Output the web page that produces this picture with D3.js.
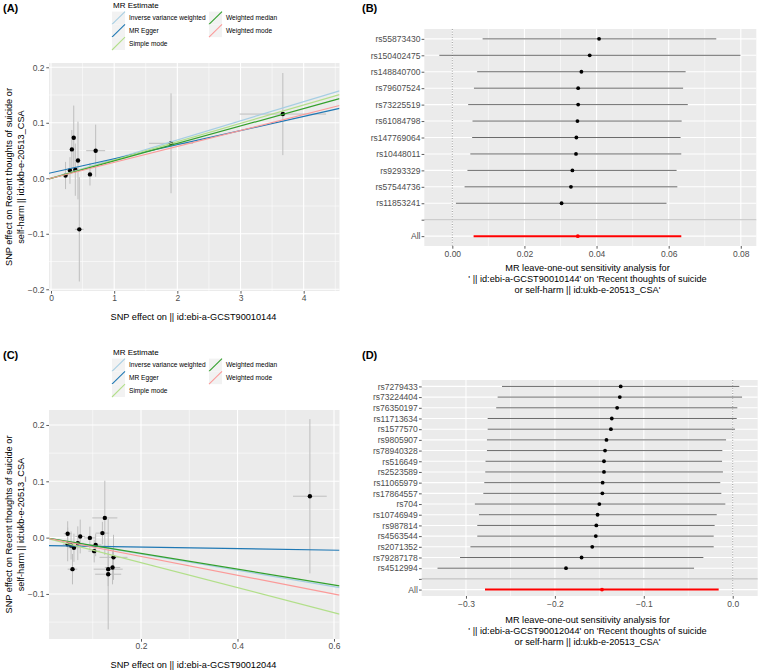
<!DOCTYPE html>
<html><head><meta charset="utf-8">
<script src="https://cdn.jsdelivr.net/npm/d3@7"></script>
<style>body{margin:0;background:#fff} text{font-family:"Liberation Sans",Arial,sans-serif}</style>
</head><body><svg id="c" width="759" height="671"></svg>
<script>
// ---------------- DATA ----------------
const methodNames = ["Inverse variance weighted","MR Egger","Simple mode","Weighted median","Weighted mode"];
const methodColors = ["#a6cee3","#1f78b4","#b2df8a","#33a02c","#fb9a99"];

// Panel A scatter
const bxA = [0.23, 0.30, 0.33, 0.36, 0.385, 0.427, 0.448, 0.617, 0.707, 1.90, 3.67];
const byA = [0.005, 0.014, 0.052, 0.073, 0.0155, 0.032, -0.092, 0.007, 0.0497, 0.063, 0.1157];
const sexA = [0.02, 0.02, 0.03, 0.03, 0.03, 0.04, 0.07, 0.03, 0.15, 0.35, 0.685];
const seyA = [0.0245, 0.024, 0.035, 0.058, 0.047, 0.07, 0.094, 0.02, 0.047, 0.09, 0.074];
const slopeA = [0.0345, 0.0254, 0.0330, 0.0314, 0.0287];
const interceptA = [0, 0.0098, 0, 0, 0];
const xTicksA = [0, 1, 2, 3, 4];
const xTickLabelsA = ["0", "1", "2", "3", "4"];
const yTicksA = [-0.2, -0.1, 0, 0.1, 0.2];
const yTickLabelsA = ["\u22120.2", "\u22120.1", "0.0", "0.1", "0.2"];

// Panel B leave-one-out
const snpsB = ["rs55873430","rs150402475","rs148840700","rs79607524","rs73225519","rs61084798","rs147769064","rs10448011","rs9293329","rs57544736","rs11853241"];
const bB  = [0.0407, 0.0381, 0.0358, 0.0349, 0.0349, 0.0347, 0.0344, 0.0343, 0.0333, 0.0329, 0.0303];
const loB = [0.0084, -0.0036, 0.0069, 0.0060, 0.0044, 0.0056, 0.0055, 0.0050, 0.0042, 0.0034, 0.0010];
const hiB = [0.0732, 0.0799, 0.0647, 0.0640, 0.0653, 0.0636, 0.0633, 0.0635, 0.0622, 0.0624, 0.0594];
const allB = [0.0348, 0.0059, 0.0635];
const xTicksB = [0, 0.02, 0.04, 0.06, 0.08];
const xTickLabelsB = ["0.00", "0.02", "0.04", "0.06", "0.08"];

// Panel C scatter
const bxC = [0.048, 0.048, 0.055, 0.058, 0.061, 0.069, 0.074, 0.094, 0.103, 0.106, 0.120, 0.125, 0.132, 0.132, 0.141, 0.143, 0.550];
const byC = [0.007, -0.012, -0.014, -0.056, -0.018, -0.010, 0.002, -0.0005, -0.024, -0.013, 0.008, 0.035, -0.056, -0.065, -0.053, -0.035, 0.0735];
const sexC = [0.008, 0.01, 0.01, 0.01, 0.012, 0.012, 0.01, 0.012, 0.012, 0.012, 0.014, 0.026, 0.03, 0.027, 0.016, 0.029, 0.035];
const seyC = [0.022, 0.03, 0.025, 0.027, 0.025, 0.03, 0.03, 0.02, 0.02, 0.02, 0.02, 0.066, 0.03, 0.098, 0.03, 0.04, 0.137];
const slopeC = [-0.145, -0.0136, -0.222, -0.140, -0.167];
const interceptC = [0, -0.0141, 0, 0, 0];
const xTicksC = [0.2, 0.4, 0.6];
const xTickLabelsC = ["0.2", "0.4", "0.6"];
const yTicksC = [-0.1, 0, 0.1, 0.2];
const yTickLabelsC = ["\u22120.1", "0.0", "0.1", "0.2"];

// Panel D leave-one-out
const snpsD = ["rs7279433","rs73224404","rs76350197","rs11713634","rs1577570","rs9805907","rs78940328","rs516649","rs2523589","rs11065979","rs17864557","rs704","rs10746949","rs987814","rs4563544","rs2071352","rs79287178","rs4512994"];
const bD  = [-0.126, -0.127, -0.130, -0.136, -0.137, -0.142, -0.1436, -0.1448, -0.1448, -0.1463, -0.1466, -0.150, -0.152, -0.1534, -0.154, -0.158, -0.170, -0.1875];
const loD = [-0.2595, -0.2644, -0.266, -0.2756, -0.2756, -0.2764, -0.2764, -0.278, -0.2783, -0.2794, -0.2805, -0.290, -0.2854, -0.2873, -0.2873, -0.295, -0.3067, -0.332];
const hiD = [0.0074, 0.0105, 0.0052, 0.0045, 0.0026, -0.0075, -0.0117, -0.012, -0.011, -0.014, -0.0128, -0.0083, -0.018, -0.0203, -0.0214, -0.0214, -0.033, -0.0435];
const allD = [-0.147, -0.2786, -0.0158];
const xTicksD = [-0.3, -0.2, -0.1, 0];
const xTickLabelsD = ["\u22120.3", "\u22120.2", "\u22120.1", "0.0"];

// ---------------- DRAWING ----------------
const svg = d3.select("#c");
svg.append("rect").attr("width", 759).attr("height", 671).attr("fill", "#fff");
const BG = "#EBEBEB", TICK = "#333333", TXT = "#4D4D4D";
let clipId = 0;

function minorsOf(major, lo, hi) {
  const step = major[1] - major[0];
  const out = [];
  for (let v = major[0] - step / 2; v <= hi + 1e-9; v += step) if (v >= lo - 1e-9) out.push(+v.toFixed(6));
  return out;
}

function panel(g, x, y, xMaj, yMaj, yIsBand) {
  const [x0, x1] = x.range(), [y1, y0] = yIsBand ? [y.range()[1], y.range()[0]] : y.range();
  g.append("rect").attr("x", x0).attr("y", y0).attr("width", x1 - x0).attr("height", y1 - y0).attr("fill", BG);
  const xd = x.domain();
  const xMin = minorsOf(xMaj, Math.min(...xd), Math.max(...xd));
  g.selectAll(null).data(xMin).join("line").attr("x1", d => x(d)).attr("x2", d => x(d)).attr("y1", y0).attr("y2", y1).attr("stroke", "#fff").attr("stroke-width", 0.55);
  if (!yIsBand) {
    const yd = y.domain();
    const yMin = minorsOf(yMaj, Math.min(...yd), Math.max(...yd));
    g.selectAll(null).data(yMin).join("line").attr("y1", d => y(d)).attr("y2", d => y(d)).attr("x1", x0).attr("x2", x1).attr("stroke", "#fff").attr("stroke-width", 0.55);
  }
  g.selectAll(null).data(xMaj).join("line").attr("x1", d => x(d)).attr("x2", d => x(d)).attr("y1", y0).attr("y2", y1).attr("stroke", "#fff").attr("stroke-width", 1.1);
  g.selectAll(null).data(yMaj).join("line").attr("y1", d => y(d)).attr("y2", d => y(d)).attr("x1", x0).attr("x2", x1).attr("stroke", "#fff").attr("stroke-width", 1.1);
  return [x0, x1, y0, y1];
}

function styleAxis(a, fs) {
  a.select(".domain").remove();
  a.attr("font-family", null).attr("font-size", null);
  a.selectAll(".tick line").attr("stroke", TICK).attr("stroke-width", 0.8);
  a.selectAll(".tick text").attr("fill", TXT).style("font-size", fs + "px");
}

function legend(g, top) {
  g.append("text").attr("x", 113).attr("y", top + 7.5).style("font-size", "8px").attr("fill", "#000").text("MR Estimate");
  const keyW = 13, keyH = 12.8;
  const pos = [[112, 0], [112, 1], [112, 2], [209, 0], [209, 1]];
  methodNames.forEach((m, i) => {
    const [kx, r] = pos[i];
    const ky = top + 11.6 + r * keyH;
    g.append("rect").attr("x", kx).attr("y", ky).attr("width", keyW).attr("height", keyH).attr("fill", "#F2F2F2");
    g.append("line").attr("x1", kx).attr("y1", ky + keyH).attr("x2", kx + keyW).attr("y2", ky).attr("stroke", methodColors[i]).attr("stroke-width", 1.1);
    g.append("text").attr("x", kx + 17).attr("y", ky + keyH / 2 + 2.4).style("font-size", "6.6px").attr("fill", "#000").text(m);
  });
}

function scatter(o) {
  const g = svg.append("g");
  const x = d3.scaleLinear().domain(o.xd).range([49, 339.5]);
  const y = d3.scaleLinear().domain(o.yd).range([o.bottom, o.top]);
  const [x0, x1, y0, y1] = panel(g, x, y, o.xt, o.yt, false);
  const id = "clip" + (clipId++);
  g.append("clipPath").attr("id", id).append("rect").attr("x", x0).attr("y", y0).attr("width", x1 - x0).attr("height", y1 - y0);
  const pg = g.append("g").attr("clip-path", `url(#${id})`);
  const idx = d3.range(o.bx.length);
  pg.selectAll(null).data(idx).join("line")
    .attr("x1", i => x(o.bx[i])).attr("x2", i => x(o.bx[i]))
    .attr("y1", i => y(o.by[i] - o.sey[i])).attr("y2", i => y(o.by[i] + o.sey[i]))
    .attr("stroke", "#BEBEBE").attr("stroke-width", 1);
  pg.selectAll(null).data(idx).join("line")
    .attr("y1", i => y(o.by[i])).attr("y2", i => y(o.by[i]))
    .attr("x1", i => x(o.bx[i] - o.sex[i])).attr("x2", i => x(o.bx[i] + o.sex[i]))
    .attr("stroke", "#BEBEBE").attr("stroke-width", 1);
  pg.selectAll(null).data(idx).join("circle")
    .attr("cx", i => x(o.bx[i])).attr("cy", i => y(o.by[i])).attr("r", 2.2).attr("fill", "#000");
  const xd = x.domain();
  pg.selectAll(null).data(d3.range(o.slopes.length)).join("line")
    .attr("x1", x(xd[0])).attr("x2", x(xd[1]))
    .attr("y1", i => y(o.intercepts[i] + o.slopes[i] * xd[0]))
    .attr("y2", i => y(o.intercepts[i] + o.slopes[i] * xd[1]))
    .attr("stroke", i => methodColors[i]).attr("stroke-width", 1.2);
  const ax = g.append("g").attr("transform", `translate(0,${y1})`)
    .call(d3.axisBottom(x).tickValues(o.xt).tickFormat((d, i) => o.xtl[i]).tickSize(2.7).tickPadding(1.5));
  styleAxis(ax, 8.5);
  const ay = g.append("g").attr("transform", `translate(${x0},0)`)
    .call(d3.axisLeft(y).tickValues(o.yt).tickFormat((d, i) => o.ytl[i]).tickSize(2.7).tickPadding(1.8));
  styleAxis(ay, 8.5);
  g.append("text").attr("x", 193.5).attr("y", y1 + 29).attr("text-anchor", "middle").style("font-size", "9.2px").text(o.xTitle);
  const cy = (y0 + y1) / 2;
  g.append("text").attr("transform", `translate(12,${cy}) rotate(-90)`).attr("text-anchor", "middle").style("font-size", "9.2px").text("SNP effect on Recent thoughts of suicide or");
  g.append("text").attr("transform", `translate(24.3,${cy}) rotate(-90)`).attr("text-anchor", "middle").style("font-size", "9.2px").text("self-harm || id:ukb-e-20513_CSA");
  legend(g, o.legTop);
  g.append("text").attr("x", 3).attr("y", o.legTop + 11.5).style("font-size", "11px").style("font-weight", "bold").text(o.label);
}

function loo(o) {
  const g = svg.append("g");
  const rows = o.snps.concat(["", "All"]);
  const x = d3.scaleLinear().domain(o.xd).range(o.xr);
  const y = d3.scalePoint().domain(rows).range([o.top, o.bottom]).padding(0.6);
  const [x0, x1, y0, y1] = panel(g, x, y, o.xt, rows, true);
  g.append("line").attr("x1", x(0)).attr("x2", x(0)).attr("y1", y0).attr("y2", y1)
    .attr("stroke", "#555").attr("stroke-width", 0.6).attr("stroke-dasharray", "1,1.6");
  g.append("line").attr("x1", x0).attr("x2", x1).attr("y1", y("")).attr("y2", y(""))
    .attr("stroke", "#BEBEBE").attr("stroke-width", 1.1);
  const idx = d3.range(o.snps.length);
  g.selectAll(null).data(idx).join("line")
    .attr("x1", i => x(o.lo[i])).attr("x2", i => x(o.hi[i]))
    .attr("y1", i => y(o.snps[i])).attr("y2", i => y(o.snps[i]))
    .attr("stroke", "#5a5a5a").attr("stroke-width", 0.9);
  g.selectAll(null).data(idx).join("circle")
    .attr("cx", i => x(o.b[i])).attr("cy", i => y(o.snps[i])).attr("r", 1.9).attr("fill", "#000");
  g.append("line").attr("x1", x(o.all[1])).attr("x2", x(o.all[2])).attr("y1", y("All")).attr("y2", y("All"))
    .attr("stroke", "#FF0000").attr("stroke-width", 2);
  g.append("circle").attr("cx", x(o.all[0])).attr("cy", y("All")).attr("r", 1.9).attr("fill", "#FF0000");
  const ax = g.append("g").attr("transform", `translate(0,${y1})`)
    .call(d3.axisBottom(x).tickValues(o.xt).tickFormat((d, i) => o.xtl[i]).tickSize(2.7).tickPadding(2));
  styleAxis(ax, 8.5);
  const ay = g.append("g").attr("transform", `translate(${x0},0)`)
    .call(d3.axisLeft(y).tickSize(2.7).tickPadding(1.2));
  styleAxis(ay, 8.5);
  const tl = ["MR leave-one-out sensitivity analysis for", o.t2, "or self-harm || id:ukb-e-20513_CSA'"];
  tl.forEach((t, k) => g.append("text").attr("x", 587.5).attr("y", o.titleY + k * 11).attr("text-anchor", "middle").style("font-size", "9.2px").text(t));
  g.append("text").attr("x", 362).attr("y", o.labelY).style("font-size", "11px").style("font-weight", "bold").text(o.label);
}

scatter({ bx: bxA, by: byA, sex: sexA, sey: seyA, slopes: slopeA, intercepts: interceptA,
  xd: [-0.0317, 4.567], yd: [-0.2031, 0.2077], top: 63, bottom: 291,
  xt: xTicksA, xtl: xTickLabelsA, yt: yTicksA, ytl: yTickLabelsA,
  xTitle: "SNP effect on || id:ebi-a-GCST90010144", legTop: 0, label: "(A)" });

scatter({ bx: bxC, by: byC, sex: sexC, sey: seyC, slopes: slopeC, intercepts: interceptC,
  xd: [0.0093, 0.6114], yd: [-0.1800, 0.2266], top: 410, bottom: 639,
  xt: xTicksC, xtl: xTickLabelsC, yt: yTicksC, ytl: yTickLabelsC,
  xTitle: "SNP effect on || id:ebi-a-GCST90012044", legTop: 347, label: "(C)" });

loo({ snps: snpsB, b: bB, lo: loB, hi: hiB, all: allB,
  xd: [-0.00777, 0.0843], xr: [424.3, 756.3], top: 29, bottom: 246,
  xt: xTicksB, xtl: xTickLabelsB,
  t2: "' || id:ebi-a-GCST90010144' on 'Recent thoughts of suicide", titleY: 270.5, labelY: 11.5, label: "(B)" });

loo({ snps: snpsD, b: bD, lo: loD, hi: hiD, all: allD,
  xd: [-0.3498, 0.0281], xr: [421.7, 757.7], top: 380, bottom: 596,
  xt: xTicksD, xtl: xTickLabelsD,
  t2: "' || id:ebi-a-GCST90012044' on 'Recent thoughts of suicide", titleY: 623.2, labelY: 358.5, label: "(D)" });
</script></body></html>
